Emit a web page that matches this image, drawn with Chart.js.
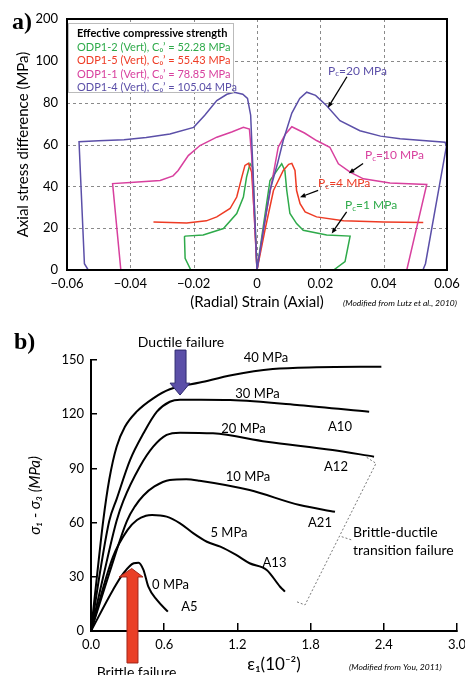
<!DOCTYPE html>
<html>
<head>
<meta charset="utf-8">
<script src="https://cdn.jsdelivr.net/npm/chart.js@4"></script>
<style>
  body { margin: 0; background: #fff; width: 465px; height: 675px; overflow: hidden; position: relative; }
  #chartA { position: absolute; left: 0; top: 0; }
  #chartB { position: absolute; left: 0; top: 315px; }
</style>
</head>
<body>
<canvas id="chartA" width="465" height="315"></canvas>
<canvas id="chartB" width="465" height="360"></canvas>
<script>
const FONT = 'Lato, "Open Sans", sans-serif';
Chart.defaults.font.family = FONT;
Chart.defaults.color = '#000';

// ---- panel a: radial (negative) / axial (positive) strain vs stress difference ----
const pc20Strain = [-0.0533, -0.0545, -0.0562, -0.050, -0.042, -0.035, -0.0275, -0.020, -0.0165, -0.0127, -0.0095, -0.0072, -0.0045, -0.0030, -0.0020, -0.0012, 0, 0.0020, 0.0041, 0.0065, 0.0083, 0.0110, 0.0135, 0.0157, 0.0185, 0.0220, 0.0262, 0.0325, 0.0390, 0.0452, 0.0594, 0.0598, 0.0532, 0.0524];
const pc20Stress = [0, 3, 61.3, 61.8, 62.3, 63.3, 65, 68.2, 74, 81, 84, 85, 84, 82, 74, 45, 0, 19, 38, 51, 62, 75, 82, 85, 83.5, 78.5, 71.4, 66.6, 64, 62.7, 61.1, 59, 3, 0];

const pc10Strain = [-0.0430, -0.0456, -0.040, -0.0306, -0.0265, -0.0249, -0.0217, -0.018, -0.0127, -0.0080, -0.0043, -0.0024, -0.0017, -0.0010, 0, 0.0030, 0.0067, 0.0090, 0.0110, 0.0150, 0.0188, 0.0230, 0.0257, 0.0294, 0.0336, 0.0420, 0.0536, 0.0473];
const pc10Stress = [0, 41.3, 41.8, 42.8, 45, 47.6, 54.7, 59.5, 63.5, 66, 68.2, 67.4, 55, 30, 0, 28, 58.7, 65, 68.5, 65.5, 61.9, 58.7, 50.8, 46.8, 43.6, 41.6, 40.9, 0];

const pc4Strain = [-0.0327, -0.0222, -0.0160, -0.0127, -0.0085, -0.0064, -0.0048, -0.0038, -0.0027, -0.0017, -0.0008, 0, 0.0025, 0.0052, 0.0083, 0.0100, 0.0110, 0.0120, 0.0125, 0.0136, 0.0152, 0.0188, 0.0273, 0.0400, 0.0525];
const pc4Stress = [23, 22.5, 23.5, 25.4, 29.4, 34.9, 44.4, 50, 51, 46.8, 25, 0, 19, 38, 47.6, 50.5, 51, 47.6, 38, 31.7, 27.8, 25.4, 23.5, 23, 22.7];

const pc1Strain = [-0.0209, -0.0227, -0.0229, -0.0227, -0.0170, -0.0106, -0.0064, -0.0043, -0.0033, -0.0022, -0.0014, -0.0007, 0, 0.0020, 0.0041, 0.0065, 0.0078, 0.0088, 0.0094, 0.0104, 0.0125, 0.0146, 0.0220, 0.0294, 0.0278, 0.0242];
const pc1Stress = [0, 5.6, 15.9, 16.2, 16.7, 19.8, 27, 34.9, 44.4, 50.8, 49.2, 25, 0, 21, 42.8, 48, 50.8, 47.6, 38, 27, 22.2, 19, 16.7, 16.2, 4, 0];

const legendTitle = 'Effective compressive strength';
const legendLines = [
  'ODP1-2 (Vert), C₀’ = 52.28 MPa',
  'ODP1-5 (Vert), C₀’ = 55.43 MPa',
  'ODP1-1 (Vert), C₀’ = 78.85 MPa',
  'ODP1-4 (Vert), C₀’ = 105.04 MPa'
];
const yTicksA = [0, 20, 40, 60, 80, 100, 200]; // broken axis: 200 sits one step above 100

// ---- panel b: sigma1 - sigma3 vs axial strain (1e-2) ----
const mpa40X = [0, 0.05, 0.10, 0.15, 0.21, 0.278, 0.374, 0.51, 0.646, 0.892, 1.16, 1.49, 1.85, 2.38];
const mpa40Y = [0, 31, 61, 84, 102, 113, 121.4, 128.8, 133.8, 137.5, 141.7, 145, 146, 146.3];
const mpa30X = [0, 0.08, 0.15, 0.21, 0.32, 0.43, 0.54, 0.646, 0.73, 0.9, 1.14, 1.71, 2.28];
const mpa30Y = [0, 35, 61, 73, 94.6, 109.4, 121.4, 126.9, 128, 128, 127.8, 125, 121.4];
const mpa20X = [0, 0.10, 0.21, 0.265, 0.40, 0.51, 0.62, 0.73, 1.0, 1.44, 1.98, 2.32];
const mpa20Y = [0, 30, 61, 72, 90.9, 102, 108.5, 109.8, 109.4, 104.8, 100.2, 96.5];
const mpa10X = [0, 0.15, 0.295, 0.36, 0.43, 0.52, 0.646, 0.78, 0.89, 1.30, 1.71, 2.0];
const mpa10Y = [0, 32, 61, 69, 75, 80, 83.6, 84, 83.2, 78, 69.7, 66];
const mpa5X = [0, 0.18, 0.30, 0.377, 0.45, 0.50, 0.62, 0.73, 0.84, 0.95, 1.06, 1.19, 1.30, 1.44, 1.55, 1.59];
const mpa5Y = [0, 41, 56, 61.4, 63.8, 64.2, 63.3, 59.6, 54, 49.4, 46.7, 42.1, 37.5, 33.8, 24.5, 21.8];
const mpa0X = [0, 0.18, 0.265, 0.35, 0.39, 0.43, 0.47, 0.54, 0.63];
const mpa0Y = [0, 22.7, 31.9, 37.5, 37.8, 33.8, 24.5, 17.2, 10.7];

const pts = (xs, ys) => xs.map((x, i) => ({ x, y: ys[i] }));

const BLUE = '#5b4fa8';
const PINK = '#d8409e';
const RED = '#ee3b24';
const GREEN = '#2eaa4a';
const legendColors = [GREEN, RED, PINK, BLUE];

function arrow(ctx, x1, y1, x2, y2, color, head = 6) {
  const ang = Math.atan2(y2 - y1, x2 - x1);
  ctx.strokeStyle = color;
  ctx.fillStyle = color;
  ctx.lineWidth = 1.3;
  ctx.beginPath();
  ctx.moveTo(x1, y1);
  ctx.lineTo(x2 - Math.cos(ang) * head * 0.8, y2 - Math.sin(ang) * head * 0.8);
  ctx.stroke();
  ctx.beginPath();
  ctx.moveTo(x2, y2);
  ctx.lineTo(x2 - head * Math.cos(ang - 0.4), y2 - head * Math.sin(ang - 0.4));
  ctx.lineTo(x2 - head * Math.cos(ang + 0.4), y2 - head * Math.sin(ang + 0.4));
  ctx.closePath();
  ctx.fill();
}

function pcLabel(ctx, px, py, value, color) {
  ctx.fillStyle = color;
  ctx.textAlign = 'left';
  ctx.textBaseline = 'middle';
  ctx.font = '12px ' + FONT;
  ctx.fillText('P', px, py);
  const w = ctx.measureText('P').width;
  ctx.font = '8px ' + FONT;
  ctx.fillText('c', px + w, py + 3);
  const wc = ctx.measureText('c').width;
  ctx.font = '12px ' + FONT;
  ctx.fillText('=' + value + ' MPa', px + w + wc, py);
}

const overlayA = {
  id: 'overlayA',
  beforeDatasetsDraw(chart) {
    // dashed grid through the scales' own ticks
    const { ctx, chartArea: a, scales: { x, y } } = chart;
    ctx.save();
    ctx.strokeStyle = '#8a8a8a';
    ctx.lineWidth = 1;
    ctx.setLineDash([3, 3]);
    ctx.beginPath();
    x.ticks.forEach(t => {
      const px = Math.round(x.getPixelForValue(t.value)) + 0.5;
      ctx.moveTo(px, a.top); ctx.lineTo(px, a.bottom);
    });
    y.ticks.forEach(t => {
      const py = Math.round(y.getPixelForValue(t.value)) + 0.5;
      ctx.moveTo(a.left, py); ctx.lineTo(a.right, py);
    });
    ctx.stroke();
    ctx.restore();
  },
  afterDraw(chart) {
    const { ctx, chartArea: a, scales: { x, y } } = chart;
    ctx.save();
    ctx.strokeStyle = '#000';
    ctx.lineWidth = 2;
    ctx.strokeRect(a.left, a.top, a.right - a.left, a.bottom - a.top);

    // legend box
    ctx.fillStyle = '#fff';
    ctx.fillRect(a.left + 1, a.top + 4, 165, 69);
    ctx.strokeStyle = '#bbb';
    ctx.lineWidth = 1;
    ctx.strokeRect(a.left + 1.5, a.top + 4.5, 165, 69);
    ctx.textAlign = 'left';
    ctx.textBaseline = 'middle';
    ctx.font = 'bold 11px ' + FONT;
    ctx.fillStyle = '#000';
    ctx.fillText(legendTitle, a.left + 10, a.top + 14);
    ctx.font = '11px ' + FONT;
    legendLines.forEach((t, i) => {
      ctx.fillStyle = legendColors[i];
      ctx.fillText(t, a.left + 10, a.top + 28 + i * 13.5);
    });

    // confining pressure labels
    const X = v => x.getPixelForValue(v);
    const Y = v => y.getPixelForValue(v);
    pcLabel(ctx, X(0.0224), Y(95.2), 20, BLUE);
    arrow(ctx, X(0.0284), Y(92.4), X(0.0224), Y(77.6), '#000');
    pcLabel(ctx, X(0.0341), Y(54.8), 10, PINK);
    arrow(ctx, X(0.0335), Y(50.9), X(0.0290), Y(46.2), '#000');
    pcLabel(ctx, X(0.0193), Y(41.4), 4, RED);
    arrow(ctx, X(0.0193), Y(38.1), X(0.0136), Y(34.8), '#000');
    pcLabel(ctx, X(0.0278), Y(30.9), 1, GREEN);
    arrow(ctx, X(0.0283), Y(27.8), X(0.0236), Y(17.5), '#000');

    // panel letter and source
    ctx.fillStyle = '#000';
    ctx.font = 'bold 24px "Liberation Serif", serif';
    ctx.textAlign = 'left';
    ctx.fillText('a)', 12, 23);
    ctx.font = 'italic 8.5px ' + FONT;
    ctx.fillText('(Modified from Lutz et al., 2010)', 343, 303);
    ctx.restore();
  }
};

new Chart(document.getElementById('chartA'), {
  type: 'line',
  data: {
    datasets: [
      { label: 'Pc=20', data: pts(pc20Strain, pc20Stress), borderColor: BLUE },
      { label: 'Pc=10', data: pts(pc10Strain, pc10Stress), borderColor: PINK },
      { label: 'Pc=4', data: pts(pc4Strain, pc4Stress), borderColor: RED },
      { label: 'Pc=1', data: pts(pc1Strain, pc1Stress), borderColor: GREEN }
    ].map(d => ({ ...d, borderWidth: 1.5, pointRadius: 0, tension: 0, fill: false }))
  },
  options: {
    responsive: false,
    animation: false,
    layout: { padding: { top: 19, right: 18, left: 0, bottom: 0 } },
    plugins: { legend: { display: false }, tooltip: { enabled: false } },
    scales: {
      x: {
        type: 'linear', min: -0.06, max: 0.06,
        ticks: {
          stepSize: 0.02, padding: 6, font: { size: 13 },
          callback: v => Math.abs(v) < 1e-9 ? '0' : (v < 0 ? '−' : '') + Math.abs(v).toFixed(2)
        },
        grid: { display: false, drawTicks: false },
        border: { display: false },
        title: { display: true, text: '(Radial) Strain (Axial)', font: { size: 15 }, padding: { top: 0, bottom: 4 } },
        afterFit: s => { s.height = 45; s.paddingLeft = 0; s.paddingRight = 0; }
      },
      y: {
        type: 'linear', min: 0, max: 120,
        ticks: {
          stepSize: 20, padding: 9, font: { size: 13 },
          callback: (v, i) => yTicksA[i]
        },
        grid: { display: false, drawTicks: false },
        border: { display: false },
        title: { display: true, text: 'Axial stress difference (MPa)', font: { size: 15 }, padding: { top: 14, bottom: 0 } },
        afterFit: s => { s.width = 67; s.paddingTop = 0; s.paddingBottom = 0; }
      }
    }
  },
  plugins: [overlayA]
});

// ---- panel b ----
const overlayB = {
  id: 'overlayB',
  afterDraw(chart) {
    const { ctx, scales: { x, y } } = chart;
    const X = v => x.getPixelForValue(v);
    const Y = v => y.getPixelForValue(v);
    ctx.save();
    ctx.fillStyle = '#000';
    ctx.textAlign = 'center';
    ctx.textBaseline = 'middle';
    ctx.font = '13px ' + FONT;
    [['40 MPa', 1.434, 151.1], ['30 MPa', 1.365, 131.2], ['20 MPa', 1.25, 111.8],
     ['10 MPa', 1.287, 85.2], ['5 MPa', 1.131, 54.2], ['0 MPa', 0.652, 25.5],
     ['A5', 0.807, 13.3], ['A13', 1.504, 37.6], ['A21', 1.877, 59.8],
     ['A12', 2.008, 90.8], ['A10', 2.041, 112.9]]
      .forEach(([t, vx, vy]) => ctx.fillText(t, X(vx), Y(vy)));

    ctx.textAlign = 'left';
    ctx.font = '14px ' + FONT;
    ctx.fillText('Brittle-ductile', X(2.148), Y(54.8));
    ctx.fillText('transition failure', X(2.148), Y(44.3));

    // dotted bracket
    ctx.strokeStyle = '#777';
    ctx.lineWidth = 1;
    ctx.setLineDash([2, 2]);
    ctx.beginPath();
    ctx.moveTo(X(2.26), Y(96.1));
    ctx.lineTo(X(2.336), Y(92.8));
    ctx.lineTo(X(1.754), Y(14.4));
    ctx.lineTo(X(1.686), Y(16.2));
    ctx.moveTo(X(2.055), Y(52.2));
    ctx.lineTo(X(2.136), Y(50.4));
    ctx.stroke();
    ctx.setLineDash([]);

    // ductile arrow
    ctx.textAlign = 'center';
    ctx.fillStyle = '#000';
    ctx.fillText('Ductile failure', X(0.738), Y(159.9));
    ctx.beginPath();
    [[0.689, 155.5], [0.689, 137.2], [0.648, 137.2], [0.73, 130.6], [0.811, 137.2], [0.779, 137.2], [0.779, 155.5]]
      .forEach(([vx, vy], i) => i ? ctx.lineTo(X(vx), Y(vy)) : ctx.moveTo(X(vx), Y(vy)));
    ctx.closePath();
    ctx.fillStyle = '#5b4fa8';
    ctx.fill();
    ctx.strokeStyle = '#2e2a6e';
    ctx.stroke();

    // brittle arrow
    ctx.beginPath();
    [[0.295, -17.7], [0.295, 29.9], [0.23, 29.9], [0.334, 34.6], [0.426, 29.9], [0.385, 29.9], [0.385, -17.7]]
      .forEach(([vx, vy], i) => i ? ctx.lineTo(X(vx), Y(vy)) : ctx.moveTo(X(vx), Y(vy)));
    ctx.closePath();
    ctx.fillStyle = '#ea3f26';
    ctx.fill();
    ctx.strokeStyle = '#a0251a';
    ctx.stroke();
    ctx.fillStyle = '#000';
    ctx.fillText('Brittle failure', X(0.373), Y(-23.2));

    ctx.font = 'bold 24px "Liberation Serif", serif';
    ctx.textAlign = 'left';
    ctx.fillText('b)', 14, 28);
    ctx.font = 'italic 8.5px ' + FONT;
    ctx.fillText('(Modified from You, 2011)', 349, 352);
    ctx.restore();
  }
};

new Chart(document.getElementById('chartB'), {
  type: 'line',
  data: {
    datasets: [
      { label: '40 MPa', data: pts(mpa40X, mpa40Y) },
      { label: '30 MPa', data: pts(mpa30X, mpa30Y) },
      { label: '20 MPa', data: pts(mpa20X, mpa20Y) },
      { label: '10 MPa', data: pts(mpa10X, mpa10Y) },
      { label: '5 MPa', data: pts(mpa5X, mpa5Y) },
      { label: '0 MPa', data: pts(mpa0X, mpa0Y) }
    ].map(d => ({ ...d, borderColor: '#000', borderWidth: 2, pointRadius: 0, cubicInterpolationMode: 'monotone', fill: false }))
  },
  options: {
    responsive: false,
    animation: false,
    layout: { padding: { top: 45, right: 8, left: 0, bottom: 0 } },
    plugins: { legend: { display: false }, tooltip: { enabled: false } },
    scales: {
      x: {
        type: 'linear', min: 0, max: 3,
        ticks: { stepSize: 0.6, padding: 14, font: { size: 13 }, callback: v => v.toFixed(1) },
        grid: { drawOnChartArea: false, drawTicks: true, tickLength: -8, color: '#000', lineWidth: 1.5 },
        border: { display: true, color: '#000', width: 2 },
        title: { display: true, text: 'ε₁(10⁻²)', font: { size: 17 }, padding: { top: 0, bottom: 0 } },
        afterFit: s => { s.height = 44; s.paddingLeft = 0; s.paddingRight = 0; }
      },
      y: {
        type: 'linear', min: 0, max: 150,
        ticks: { stepSize: 30, padding: 13, font: { size: 13 } },
        grid: { drawOnChartArea: false, drawTicks: true, tickLength: -6, color: '#000', lineWidth: 1.5 },
        border: { display: true, color: '#000', width: 2 },
        title: { display: true, text: 'σ₁ - σ₃ (MPa)', font: { size: 15, style: 'italic' }, padding: { top: 26, bottom: 0 } },
        afterFit: s => { s.width = 91; s.paddingTop = 0; s.paddingBottom = 0; }
      }
    }
  },
  plugins: [overlayB]
});
</script>
</body>
</html>
